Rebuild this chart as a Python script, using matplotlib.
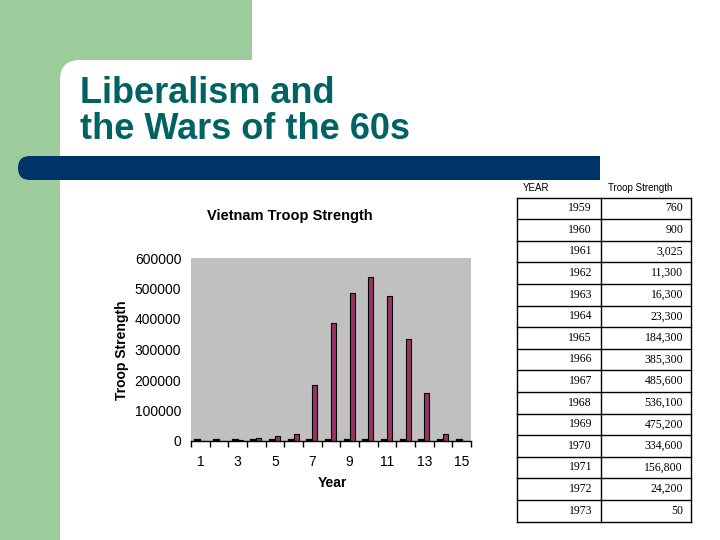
# Vietnam troop strength slide
import matplotlib
matplotlib.use('Agg')
import matplotlib.pyplot as plt
from matplotlib.patches import Rectangle, FancyBboxPatch

# data from the slide table
years = [1959, 1960, 1961, 1962, 1963, 1964, 1965, 1966, 1967, 1968, 1969, 1970, 1971, 1972, 1973]
troops = [760, 900, 3025, 11300, 16300, 23300, 184300, 385300, 485600, 536100, 475200, 334600, 156800, 24200, 50]
yticks = [0, 100000, 200000, 300000, 400000, 500000, 600000]
xlabels_shown = [1, 3, 5, 7, 9, 11, 13, 15]

green = '#9ccc9c'
navy = '#003366'
teal = '#006262'

fig = plt.figure(figsize=(7.2, 5.4), dpi=100)

# background drawn in pixel coordinates
bg = fig.add_axes([0, 0, 1, 1])
bg.set_xlim(0, 720)
bg.set_ylim(540, 0)
bg.axis('off')
bg.add_patch(Rectangle((0, 0), 252, 80, color=green, lw=0))
bg.add_patch(Rectangle((0, 0), 80, 540, color=green, lw=0))
bg.add_patch(FancyBboxPatch((60, 60), 720, 520, boxstyle='round,pad=0,rounding_size=20',
                            fc='white', ec='none'))
bg.add_patch(FancyBboxPatch((18, 156), 100, 24, boxstyle='round,pad=0,rounding_size=12',
                            fc=navy, ec='none'))
bg.add_patch(Rectangle((40, 156), 560, 24, color=navy, lw=0))

bg.text(80, 103, 'Liberalism and', fontsize=26, fontweight='bold', color=teal,
        family='Liberation Sans', ha='left', va='baseline')
bg.text(80, 139, 'the Wars of the 60s', fontsize=26, fontweight='bold', color=teal,
        family='Liberation Sans', ha='left', va='baseline')

# table
tx0, tx1, tx2 = 516.5, 600.5, 690.5
ty0, rowh = 197.5, 21.6
bg.text(523, 188, 'YEAR', fontsize=7, family='Liberation Sans', ha='left', va='center')
bg.text(608, 188, 'Troop Strength', fontsize=7, family='Liberation Sans', ha='left', va='center')
n = len(years)
for i in range(n + 1):
    bg.plot([tx0, tx2], [ty0 + i * rowh] * 2, color='black', lw=1)
for xx in (tx0, tx1, tx2):
    bg.plot([xx, xx], [ty0, ty0 + n * rowh], color='black', lw=1)
for i in range(n):
    yc = ty0 + (i + 0.5) * rowh
    bg.text(592, yc, str(years[i]), fontsize=8.5, family='Liberation Serif', ha='right', va='center')
    bg.text(683, yc, '{:,}'.format(troops[i]), fontsize=8.5, family='Liberation Serif',
            ha='right', va='center')

# chart
ax = fig.add_axes([191 / 720, 1 - 441 / 540, 280 / 720, 183 / 540])
ax.set_facecolor('#c0c0c0')
cats = list(range(1, n + 1))
w = 0.27
ax.bar([c - 0.14 for c in cats], years, width=w, color='#9999ff', edgecolor='black', lw=1.6)
ax.bar([c + 0.14 for c in cats], troops, width=w, color='#993366', edgecolor='black', lw=0.8)
ax.set_xlim(0.5, n + 0.5)
ax.set_ylim(0, 600000)
ax.set_yticks(yticks)
ax.set_yticklabels([str(v) for v in yticks], fontsize=10, family='Liberation Sans')
ax.set_xticks(xlabels_shown)
ax.set_xticklabels([str(v) for v in xlabels_shown], fontsize=10, family='Liberation Sans')
ax.set_xticks([c + 0.5 for c in range(n + 1)], minor=True)
ax.tick_params(axis='x', which='major', length=0, pad=10)
ax.tick_params(axis='x', which='minor', length=4, width=1, direction='out', color='black')
ax.tick_params(axis='y', length=0, pad=7)
for s in ('top', 'right', 'left'):
    ax.spines[s].set_visible(False)
ax.spines['bottom'].set_color('black')
ax.spines['bottom'].set_linewidth(1)

bg.text(290, 216, 'Vietnam Troop Strength', fontsize=10.5, fontweight='bold',
        family='Liberation Sans', ha='center', va='center')
bg.text(332, 483, 'Year', fontsize=10, fontweight='bold', family='Liberation Sans',
        ha='center', va='center')
bg.text(122, 350, 'Troop Strength', fontsize=10, fontweight='bold', family='Liberation Sans',
        ha='center', va='center', rotation=90)

fig.savefig('out.png', dpi=100)
